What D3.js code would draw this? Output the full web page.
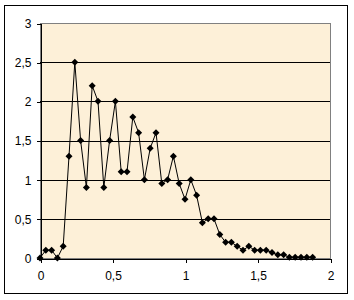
<!DOCTYPE html>
<html>
<head>
<meta charset="utf-8">
<script src="https://cdn.jsdelivr.net/npm/d3@7"></script>
<style>
  body { margin: 0; background: #fff; }
  svg { display: block; font-family: "Liberation Sans", Arial, sans-serif; }
  .axis text { font-size: 12px; fill: #000; }
  .axis path, .axis line { stroke: #000; shape-rendering: crispEdges; }
</style>
</head>
<body>
<svg id="chart"></svg>
<script>
// data
const xValues = [0, 0.04, 0.08, 0.12, 0.16, 0.2, 0.24, 0.28, 0.32, 0.36,
  0.4, 0.44, 0.48, 0.52, 0.56, 0.6, 0.64, 0.68, 0.72, 0.76,
  0.8, 0.84, 0.88, 0.92, 0.96, 1, 1.04, 1.08, 1.12, 1.16,
  1.2, 1.24, 1.28, 1.32, 1.36, 1.4, 1.44, 1.48, 1.52, 1.56,
  1.6, 1.64, 1.68, 1.72, 1.76, 1.8, 1.84, 1.88];
const yValues = [0, 0.1, 0.1, 0, 0.15, 1.3, 2.5, 1.5, 0.9, 2.2,
  2.0, 0.9, 1.5, 2.0, 1.1, 1.1, 1.8, 1.6, 1.0, 1.4,
  1.6, 0.95, 1.0, 1.3, 0.95, 0.75, 1.0, 0.8, 0.45, 0.5,
  0.5, 0.3, 0.2, 0.2, 0.15, 0.1, 0.15, 0.1, 0.1, 0.1,
  0.07, 0.04, 0.04, 0.01, 0.01, 0.01, 0.01, 0.01];
const xTicks = [0, 0.5, 1, 1.5, 2];
const yTicks = [0, 0.5, 1, 1.5, 2, 2.5, 3];

const W = 354, H = 300;
const margin = {top: 23, right: 24, bottom: 42, left: 40};
const width = W - margin.left - margin.right;
const height = H - margin.top - margin.bottom;

const fmt = d => String(d).replace('.', ',');

const svg = d3.select('#chart').attr('width', W).attr('height', H);

// outer chart frame
svg.append('rect')
  .attr('x', 4.5).attr('y', 5.5)
  .attr('width', 343).attr('height', 288)
  .attr('fill', '#fff').attr('stroke', '#000');

const chart = svg.append('g')
  .attr('transform', `translate(${margin.left},${margin.top})`);

const xScale = d3.scaleLinear([0, 2], [0, width]);
const yScale = d3.scaleLinear([0, 3], [height, 0]);

// plot area
chart.append('rect')
  .attr('x', 0.5).attr('y', 0.5)
  .attr('width', width).attr('height', height)
  .attr('fill', '#fdf0d8')
  .attr('stroke', '#808080');

// horizontal gridlines
chart.append('g')
  .selectAll('line')
  .data(yTicks.filter(d => d > 0 && d < 3))
  .join('line')
    .attr('x1', 0).attr('x2', width)
    .attr('y1', d => Math.round(yScale(d)) + 0.5)
    .attr('y2', d => Math.round(yScale(d)) + 0.5)
    .attr('stroke', '#000');

const xAxis = d3.axisBottom(xScale).tickValues(xTicks).tickFormat(fmt)
  .tickSizeInner(4).tickSizeOuter(0).tickPadding(9);
const yAxis = d3.axisLeft(yScale).tickValues(yTicks).tickFormat(fmt)
  .tickSizeInner(4).tickSizeOuter(0).tickPadding(5);

chart.append('g')
  .attr('class', 'axis x-axis')
  .attr('transform', `translate(0.5,${height + 0.5})`)
  .call(xAxis);

chart.append('g')
  .attr('class', 'axis y-axis')
  .attr('transform', 'translate(0.5,0.5)')
  .call(yAxis);

const pts = xValues.map((x, i) => [x, yValues[i]]);

chart.append('path')
  .datum(pts)
  .attr('fill', 'none')
  .attr('stroke', '#000')
  .attr('stroke-width', 1)
  .attr('d', d3.line(d => xScale(d[0]), d => yScale(d[1])));

chart.append('g')
  .selectAll('path')
  .data(pts)
  .join('path')
    .attr('transform', d => `translate(${xScale(d[0])},${yScale(d[1])})`)
    .attr('d', 'M0,-3.5L3.5,0L0,3.5L-3.5,0Z')
    .attr('fill', '#000');
</script>
</body>
</html>
